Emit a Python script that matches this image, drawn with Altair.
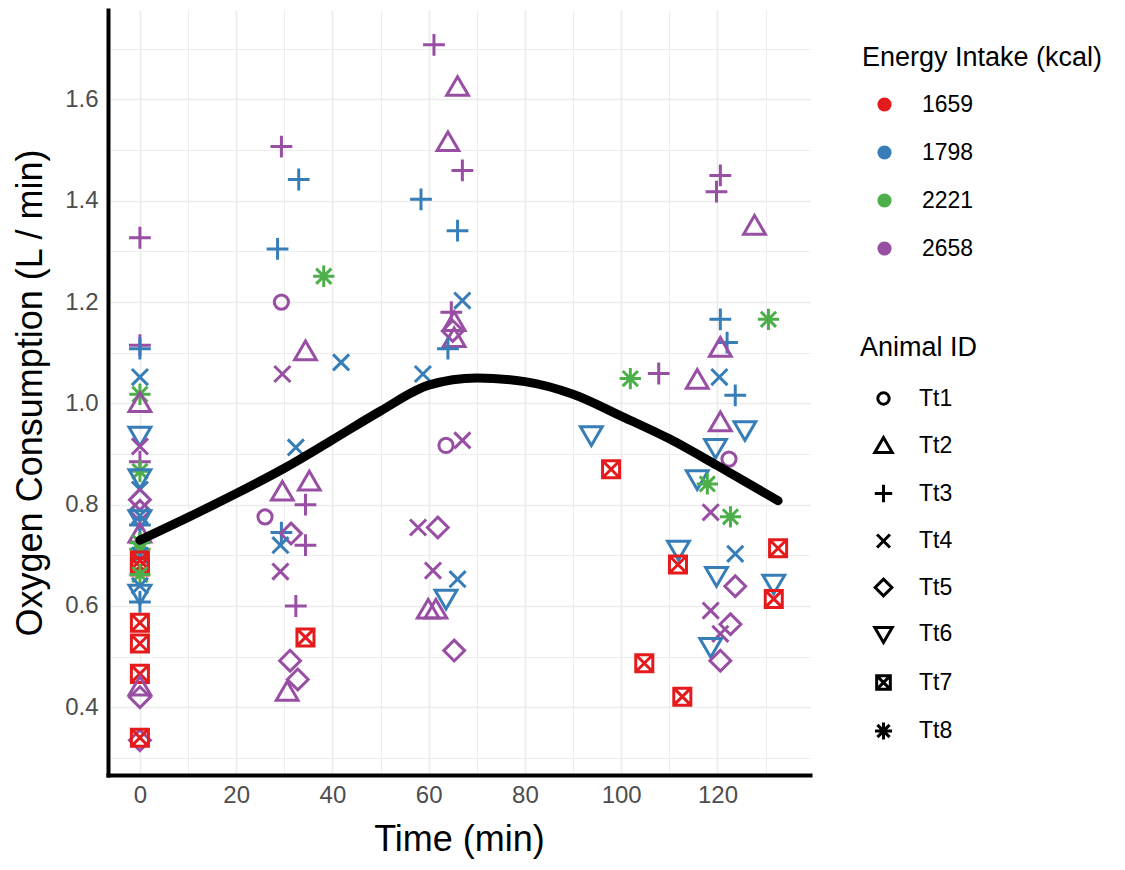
import altair as alt
import pandas as pd

# ---- data ----
time_min = [
    0, 0, 0, 0, 0, 0, 0, 0, 0, 0, 0, 0, 0, 0, 0, 0, 0,
    0, 0, 0, 0, 0, 0, 0, 0, 0, 0, 0, 0, 0, 0, 0, 0, 0,
    29.4, 33.0, 28.6, 38.2, 29.4, 34.4, 41.8, 29.6, 32.4, 35.2, 29.6, 34.4,
    26.0, 29.4, 31.4, 29.2, 34.4, 29.2, 32.4, 34.4, 31.2, 32.8, 30.6,
    61.1, 66.0, 64.0, 67.0, 58.4, 66.0, 67.0, 64.7, 65.3, 65.0, 65.3, 64.0,
    58.8, 63.6, 67.0, 57.8, 61.9, 60.9, 66.0, 63.6, 59.9, 61.5, 65.3,
    120.6, 119.8, 127.7, 120.6, 130.6, 122.0, 120.6, 107.8, 101.9, 115.8,
    120.4, 123.7, 120.6, 125.7, 93.8, 119.6, 122.4, 97.9, 115.8, 117.9,
    118.6, 122.7, 111.9, 111.8, 132.6, 123.7, 119.8, 123.7, 131.7, 131.7,
    118.6, 122.7, 120.6, 118.6, 120.6, 104.8, 112.7,
]
oxygen = [
    1.327, 1.115, 1.108, 1.052, 1.018, 1.000, 0.937, 0.915, 0.885, 0.866,
    0.853, 0.830, 0.810, 0.788, 0.778, 0.772, 0.760,
    0.742, 0.725, 0.712, 0.700, 0.690, 0.678, 0.662, 0.640, 0.625, 0.608,
    0.567, 0.526, 0.466, 0.440, 0.420, 0.335, 0.340,
    1.507, 1.442, 1.305, 1.251, 1.200, 1.102, 1.081, 1.058, 0.913, 0.845,
    0.825, 0.800, 0.776, 0.745, 0.743, 0.720, 0.720, 0.668, 0.600, 0.538,
    0.492, 0.455, 0.430,
    1.708, 1.624, 1.515, 1.460, 1.403, 1.341, 1.203, 1.180, 1.160, 1.143,
    1.128, 1.108, 1.058, 0.917, 0.927, 0.755, 0.755, 0.670, 0.653, 0.615,
    0.592, 0.592, 0.512,
    1.450, 1.418, 1.350, 1.166, 1.166, 1.120, 1.109, 1.059, 1.049, 1.046,
    1.052, 1.016, 0.962, 0.948, 0.938, 0.913, 0.890, 0.870, 0.851, 0.841,
    0.785, 0.776, 0.712, 0.682, 0.714, 0.703, 0.660, 0.639, 0.645, 0.614,
    0.591, 0.564, 0.545, 0.520, 0.492, 0.487, 0.421,
]
energy = [
    "2658", "2658", "1798", "1798", "2221", "2658", "1798", "2658", "2658", "2221",
    "1798", "1798", "2658", "2658", "1798", "1798", "1798",
    "2658", "2221", "2221", "1798", "1659", "1659", "2221", "1798", "1798", "1798",
    "1659", "1659", "1659", "2658", "2658", "2658", "1659",
    "2658", "1798", "1798", "2221", "2658", "2658", "1798", "2658", "1798", "2658",
    "2658", "2658", "2658", "1798", "2658", "1798", "2658", "2658", "2658", "1659",
    "2658", "2658", "2658",
    "2658", "2658", "2658", "2658", "1798", "1798", "1798", "2658", "2658", "2658",
    "2658", "1798", "1798", "2658", "2658", "2658", "2658", "2658", "1798", "1798",
    "2658", "2658", "2658",
    "2658", "2658", "2658", "1798", "2221", "1798", "2658", "2658", "2221", "2658",
    "1798", "1798", "2658", "1798", "1798", "1798", "2658", "1659", "1798", "2221",
    "2658", "2221", "1798", "1659", "1659", "1798", "1798", "2658", "1798", "1659",
    "2658", "2658", "2658", "1798", "2658", "1659", "1659",
]
animal = [
    "Tt3", "Tt3", "Tt3", "Tt4", "Tt8", "Tt2", "Tt6", "Tt4", "Tt3", "Tt8",
    "Tt6", "Tt4", "Tt5", "Tt5", "Tt4", "Tt6", "Tt3",
    "Tt2", "Tt8", "Tt8", "Tt4", "Tt7", "Tt7", "Tt8", "Tt4", "Tt6", "Tt3",
    "Tt7", "Tt7", "Tt7", "Tt2", "Tt5", "Tt5", "Tt7",
    "Tt3", "Tt3", "Tt3", "Tt8", "Tt1", "Tt2", "Tt4", "Tt4", "Tt4", "Tt2",
    "Tt2", "Tt3", "Tt1", "Tt3", "Tt5", "Tt4", "Tt3", "Tt4", "Tt3", "Tt7",
    "Tt5", "Tt5", "Tt2",
    "Tt3", "Tt2", "Tt2", "Tt3", "Tt3", "Tt3", "Tt4", "Tt3", "Tt2", "Tt5",
    "Tt2", "Tt3", "Tt4", "Tt1", "Tt4", "Tt4", "Tt5", "Tt4", "Tt4", "Tt6",
    "Tt2", "Tt2", "Tt5",
    "Tt3", "Tt3", "Tt2", "Tt3", "Tt8", "Tt3", "Tt2", "Tt3", "Tt8", "Tt2",
    "Tt4", "Tt3", "Tt2", "Tt6", "Tt6", "Tt6", "Tt1", "Tt7", "Tt6", "Tt8",
    "Tt4", "Tt8", "Tt6", "Tt7", "Tt7", "Tt4", "Tt6", "Tt5", "Tt6", "Tt7",
    "Tt4", "Tt5", "Tt4", "Tt6", "Tt5", "Tt7", "Tt7",
]

# fitted smooth curve
smooth_time = [0, 10, 20, 30, 40, 50, 60, 70, 80, 90, 100, 110, 120, 132.6]
smooth_oxygen = [0.730, 0.775, 0.822, 0.872, 0.928, 0.985, 1.036, 1.050,
                 1.043, 1.018, 0.975, 0.930, 0.877, 0.808]

energy_levels = ["1659", "1798", "2221", "2658"]
energy_colors = ["#E41A1C", "#377EB8", "#4DAF4A", "#984EA3"]
animal_ids = ["Tt1", "Tt2", "Tt3", "Tt4", "Tt5", "Tt6", "Tt7", "Tt8"]

x_ticks = [0, 10, 20, 30, 40, 50, 60, 70, 80, 90, 100, 110, 120, 130]
y_ticks = [0.3, 0.4, 0.5, 0.6, 0.7, 0.8, 0.9, 1.0, 1.1, 1.2, 1.3, 1.4, 1.5, 1.6, 1.7]

# ggplot-like shapes as custom symbol paths
shape_paths = [
    "M0.6,0A0.6,0.6 0 1,1 -0.6,0A0.6,0.6 0 1,1 0.6,0Z",              # open circle
    "M0,-0.9L0.92,0.68L-0.92,0.68Z",                                  # triangle up
    "M-0.92,0H0.92M0,-0.92V0.92",                                      # plus
    "M-0.68,-0.68L0.68,0.68M-0.68,0.68L0.68,-0.68",                    # cross
    "M0,-0.88L0.88,0L0,0.88L-0.88,0Z",                                 # diamond
    "M0,0.9L0.92,-0.68L-0.92,-0.68Z",                                  # triangle down
    "M-0.72,-0.72H0.72V0.72H-0.72ZM-0.72,-0.72L0.72,0.72M-0.72,0.72L0.72,-0.72",  # square cross
    "M-0.9,0H0.9M0,-0.9V0.9M-0.64,-0.64L0.64,0.64M-0.64,0.64L0.64,-0.64",         # asterisk
]

df = pd.DataFrame({"time": time_min, "oxygen": oxygen,
                   "energy": energy, "animal": animal})
smooth_df = pd.DataFrame({"time": smooth_time, "oxygen": smooth_oxygen})

tmin, tmax = min(time_min), max(time_min)
vmin, vmax = min(oxygen), max(oxygen)
xdom = [tmin - 0.05 * (tmax - tmin), tmax + 0.05 * (tmax - tmin)]
ydom = [vmin - 0.05 * (vmax - vmin), vmax + 0.05 * (vmax - vmin)]

FONT = "Liberation Sans, Arial, sans-serif"

x_axis = alt.Axis(
    title="Time (min)", values=x_ticks,
    labelExpr="datum.value % 20 === 0 ? datum.label : ''",
    ticks=False, grid=True, gridColor="#ebebeb",
    gridWidth={"condition": {"test": "datum.value % 20 === 0", "value": 1.6}, "value": 0.9},
    domainColor="black", domainWidth=4, domainCap="square",
    labelColor="#4d4d4d", labelFontSize=24, labelFont=FONT, labelPadding=8,
    titleFontSize=36, titleFont=FONT, titleFontWeight="normal", titleColor="black",
    titlePadding=15,
)
y_axis = alt.Axis(
    title="Oxygen Consumption (L / min)", values=y_ticks,
    labelExpr="round(datum.value * 10) % 2 === 0 ? format(datum.value, '.1f') : ''",
    ticks=False, grid=True, gridColor="#ebebeb",
    gridWidth={"condition": {"test": "round(datum.value * 10) % 2 === 0", "value": 1.6}, "value": 0.9},
    domainColor="black", domainWidth=4, domainCap="square",
    labelColor="#4d4d4d", labelFontSize=24, labelFont=FONT, labelPadding=10,
    titleFontSize=36, titleFont=FONT, titleFontWeight="normal", titleColor="black",
    titlePadding=15,
)

energy_legend = alt.Legend(
    title="Energy Intake (kcal)", orient="none", legendX=754, legendY=35,
    padding=0, titleFont=FONT, titleFontSize=27, titleFontWeight="normal",
    titleColor="black", titlePadding=21, titleLimit=500, labelFont=FONT, labelFontSize=23,
    labelColor="black", symbolType="circle", symbolSize=200, symbolStrokeWidth=0,
    symbolOffset=11, labelOffset=26, rowPadding=24, symbolOpacity=1,
)
animal_legend = alt.Legend(
    title="Animal ID", orient="none", legendX=752, legendY=325,
    padding=0, titleFont=FONT, titleFontSize=27, titleFontWeight="normal",
    titleColor="black", titlePadding=25, labelFont=FONT, labelFontSize=23,
    labelColor="black", symbolSize=360, symbolOffset=12,
    labelOffset=24, rowPadding=19.5, symbolStrokeColor="black",
    symbolFillColor="transparent", symbolStrokeWidth=3, symbolOpacity=1,
)

xenc = alt.X("time:Q", scale=alt.Scale(domain=xdom, nice=False, zero=False), axis=x_axis)
yenc = alt.Y("oxygen:Q", scale=alt.Scale(domain=ydom, nice=False, zero=False), axis=y_axis)

points = alt.Chart(df).mark_point(filled=False, opacity=1, strokeWidth=3, size=560).encode(
    x=xenc,
    y=yenc,
    color=alt.Color("energy:N", scale=alt.Scale(domain=energy_levels, range=energy_colors),
                    legend=None),
    shape=alt.Shape("animal:N", scale=alt.Scale(domain=animal_ids, range=shape_paths),
                    legend=animal_legend),
)

# legend-only layer (filled circles for the colour key); it draws no data rows
energy_numbers = [int(e) for e in energy_levels]
energy_key = alt.Chart(df).transform_filter("false").transform_calculate(
    intake="toNumber(datum.energy)"
).mark_point(filled=True, opacity=1, shape="circle", size=200).encode(
    x="time:Q", y="oxygen:Q",
    fill=alt.Fill("intake:N", scale=alt.Scale(domain=energy_numbers, range=energy_colors),
                  legend=energy_legend),
)

line = alt.Chart(smooth_df).mark_line(
    color="black", strokeWidth=9, strokeCap="round", interpolate="monotone"
).encode(x="time:Q", y="oxygen:Q")

chart = alt.layer(points, energy_key, line).properties(
    width=702, height=765,
    autosize=alt.AutoSizeParams(type="none"),
    padding={"left": 100, "top": 2, "right": 300, "bottom": 85},
    background="white",
).configure_view(strokeWidth=0).configure_legend(
    symbolBaseStrokeColor="black", symbolBaseFillColor="transparent"
)

chart.save("out.html", embed_options={"renderer": "svg", "actions": False})
